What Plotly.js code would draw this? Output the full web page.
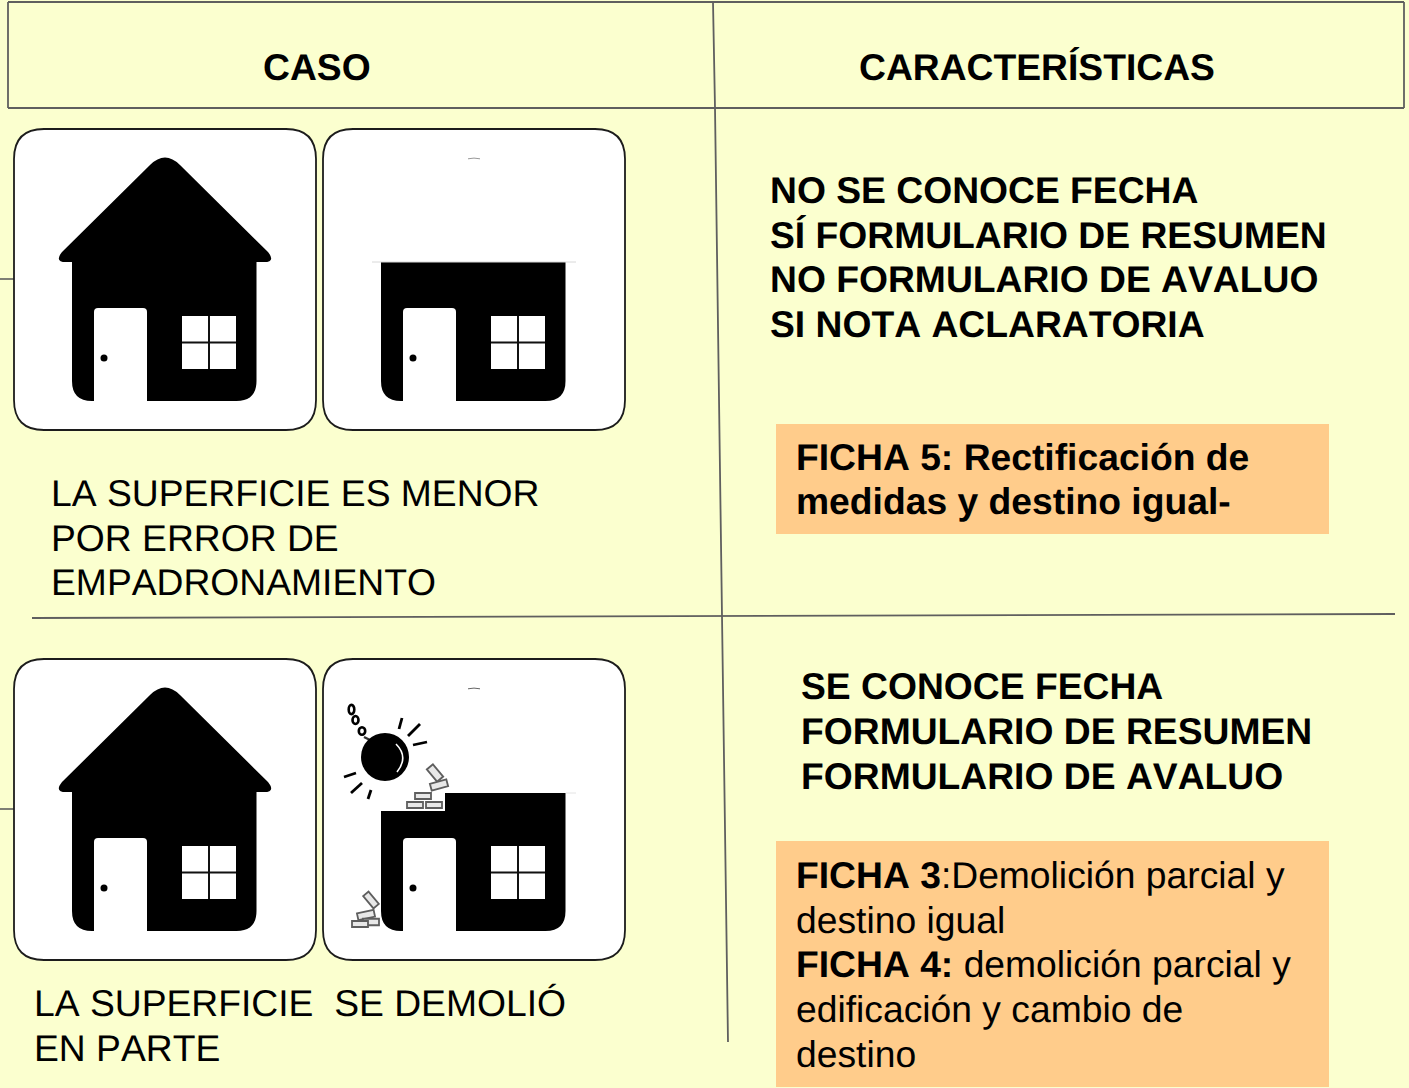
<!DOCTYPE html>
<html><head><meta charset="utf-8">
<script src="https://cdn.plot.ly/plotly-3.0.1.min.js"></script>
<style>html,body{margin:0;padding:0;background:#fbffcf}#c{width:1409px;height:1088px}
svg text{font-kerning:none;text-rendering:geometricPrecision}</style>
</head><body><div id="c"></div>
<script>
const headers = ["CASO", "CARACTERÍSTICAS"];
const case1Lines = ["LA SUPERFICIE ES MENOR", "POR ERROR DE", "EMPADRONAMIENTO"];
const case2Lines = ["LA SUPERFICIE  SE DEMOLIÓ", "EN PARTE"];
const traits1Lines = ["NO SE CONOCE FECHA", "SÍ FORMULARIO DE RESUMEN", "NO FORMULARIO DE AVALUO", "SI NOTA ACLARATORIA"];
const traits2Lines = ["SE CONOCE FECHA", "FORMULARIO DE RESUMEN", "FORMULARIO DE AVALUO"];
const ficha1Lines = ["<b>FICHA 5: Rectificación de</b>", "<b>medidas y destino igual-</b>"];
const ficha2Lines = ["<b>FICHA 3</b>:Demolición parcial y", "destino igual", "<b>FICHA 4:</b> demolición parcial y", "edificación y cambio de", "destino"];

const BG = "#fbffcf", LINE = "#5f5f5f", ORANGE = "#ffcc8b";
const shapes = [], annotations = [];
const path = (d, fill, line, w) => shapes.push({type:"path", xref:"x", yref:"y", path:d,
  fillcolor: fill || "rgba(0,0,0,0)", line:{color: line || "rgba(0,0,0,0)", width: line ? (w||1) : 0}});
const rect = (x0,y0,x1,y1,fill) => shapes.push({type:"rect", xref:"x", yref:"y", x0,y0,x1,y1, fillcolor:fill, line:{width:0}});
const seg = (x0,y0,x1,y1,c,w) => shapes.push({type:"line", xref:"x", yref:"y", x0,y0,x1,y1, line:{color:c,width:w}});
const oval = (cx,cy,rx,ry,fill,line,w) => shapes.push({type:"circle", xref:"x", yref:"y", x0:cx-rx,y0:cy-ry,x1:cx+rx,y1:cy+ry, fillcolor:fill, line:{color:line||"rgba(0,0,0,0)",width:line?w:0}});
const text = (x,y,t,anchor,bold) => annotations.push({xref:"x", yref:"y", x, y, text: bold?`<b>${t}</b>`:t, showarrow:false,
  xanchor:anchor||"left", yanchor:"middle", align:"left", borderpad:0, font:{family:"Liberation Sans, Arial, sans-serif", size:37.25, color:"#000"}});

function card(x,y){
  const r=30, x1=x+302, y1=y+301;
  path(`M${x+r},${y} L${x1-r},${y} Q${x1},${y} ${x1},${y+r} L${x1},${y1-r} Q${x1},${y1} ${x1-r},${y1} L${x+r},${y1} Q${x},${y1} ${x},${y1-r} L${x},${y+r} Q${x},${y} ${x+r},${y} Z`, "#fff", "#1c1c1c", 1.8);
}
function lower(dx,dy,topPath){
  path(topPath, "#000");
  path(`M${94+dx},${401+dy} L${94+dx},${312+dy} Q${94+dx},${308+dy} ${98+dx},${308+dy} L${143+dx},${308+dy} Q${147+dx},${308+dy} ${147+dx},${312+dy} L${147+dx},${401+dy} Z`, "#fff");
  oval(104+dx,358+dy,3.5,3.5,"#000");
  rect(182+dx,316+dy,236+dx,369+dy,"#fff");
  seg(209+dx,316+dy,209+dx,369+dy,"#111",2);
  seg(182+dx,342.5+dy,236+dx,342.5+dy,"#111",2);
}
const bottom = (dx,dy) => `L${256.5+dx},${381+dy} Q${256.5+dx},${401+dy} ${236.5+dx},${401+dy} L${92+dx},${401+dy} Q${72+dx},${401+dy} ${72+dx},${381+dy}`;
function fullHouse(dy){
  lower(0,dy,`M150,${165+dy} Q165,${150+dy} 180,${165+dy} L268,${252+dy} Q276,${262+dy} 264,${262+dy} L256.5,${262+dy} ${bottom(0,dy)} L72,${262+dy} L66,${262+dy} Q54,${262+dy} 62,${252+dy} Z`);
}
function cutHouse(){
  const dx=309;
  lower(dx,0,`M${72+dx},262 L${256.5+dx},262 ${bottom(dx,0)} Z`);
  seg(372,262,576,262,"#d8d8d8",1);
  path(`M468,158.8 Q474,157.4 480,158.8`, null, "#999", 1);
}
function demolishedHouse(){
  const dx=309, dy=530;
  lower(dx,dy,`M${72+dx},811 L445,811 L445,793 L${256.5+dx},793 ${bottom(dx,dy)} Z`);
  seg(566,793,576,793,"#e4e4e4",1);
  path(`M468,688.8 Q474,687.4 480,688.8`, null, "#666", 1);
}
function brick(cx,cy,w,h,deg){
  const a=deg*Math.PI/180, c=Math.cos(a), s=Math.sin(a);
  const p=[[-w/2,-h/2],[w/2,-h/2],[w/2,h/2],[-w/2,h/2]].map(([u,v])=>`${cx+u*c-v*s},${cy+u*s+v*c}`);
  path(`M${p[0]} L${p[1]} L${p[2]} L${p[3]} Z`, "#e8e8e8", "#5e5e5e", 1.8);
}
function wreckingBall(){
  [[351.5,709.5,2.8,4.6],[355.5,720,3,4],[362,731,3.2,3.8]].forEach(o=>oval(o[0],o[1],o[2],o[3],"#fff","#000",2.6));
  seg(364,737,372,741,"#333",2.5);
  oval(385,757,24,24,"#000");
  path("M396,744 Q409,757 397,772", null, "#fff", 1.6);
  [[399,729,402,718],[408,736,420,724],[413,745,427,742],[344,777,356,773],[351,793,362,783],[368,799,371,790]]
    .forEach(d=>seg(d[0],d[1],d[2],d[3],"#000",2.8));
}

// Panel frame
seg(8,2,1404,2,LINE,1.8); seg(8,108,1404,108,LINE,1.8);
seg(8,2,8,108,LINE,1.8); seg(1404,2,1404,108,LINE,1.8);
path("M713,2 L715,108 L722,616 L728,1042", null, LINE, 1.8);
seg(32,618,1395,614,LINE,1.8);
seg(0,279,14,279,LINE,1.6); seg(0,809,14,809,LINE,1.6);

// Orange boxes
rect(776,424,1329,534,ORANGE);
rect(776,841,1329,1087,ORANGE);

// Cards and pictograms
card(14,129); card(323,129); card(14,659); card(323,659);
fullHouse(0); cutHouse(); fullHouse(530); demolishedHouse();
wreckingBall();
[[435,773,16,8,50],[439,785,17,7,-15],[423,796,16,6,0],[415,805,16,6,0],[434,805,16,6,0],
 [371,900,16,7,50],[366,915,17,7,-12],[371,922,16,6.5,0],[360,924,16,6,0]].forEach(b=>brick(...b));

// Text
text(317,66.5,headers[0],"center",true);
text(1037,66.5,headers[1],"center",true);
[492.5,538,581.5].forEach((y,i)=>text(49.5,y,case1Lines[i]));
[1002.5,1047.5].forEach((y,i)=>text(32.5,y,case2Lines[i]));
[189.5,234.5,278.5,323.5].forEach((y,i)=>text(768.5,y,traits1Lines[i],"left",true));
[685.5,730.5,775.5].forEach((y,i)=>text(799.5,y,traits2Lines[i],"left",true));
[456.5,500.5].forEach((y,i)=>text(795,y,ficha1Lines[i]));
[874.5,919.5,963.5,1008.5,1053.5].forEach((y,i)=>text(795,y,ficha2Lines[i]));

Plotly.newPlot("c",[],{
  width:1409,height:1088,margin:{l:0,r:0,t:0,b:0},
  paper_bgcolor:BG,plot_bgcolor:BG,showlegend:false,
  xaxis:{range:[0,1409],visible:false,fixedrange:true},
  yaxis:{range:[1088,0],visible:false,fixedrange:true},
  shapes,annotations
},{staticPlot:true,displayModeBar:false});
</script></body></html>
